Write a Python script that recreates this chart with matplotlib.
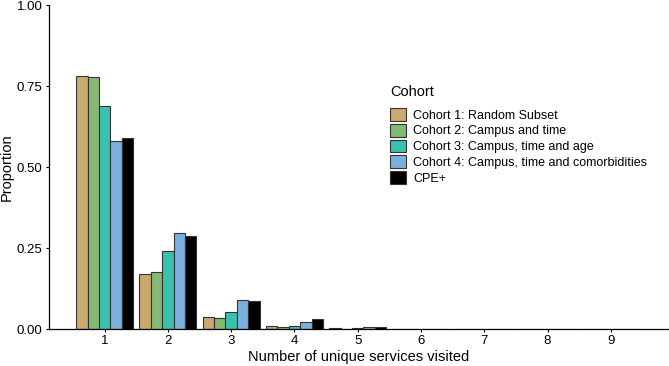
import numpy as np
import matplotlib.pyplot as plt

plt.rcParams['font.family'] = ['Liberation Sans', 'DejaVu Sans']

n_services = [1, 2, 3, 4, 5, 6, 7, 8, 9]
cohorts = ['Cohort 1: Random Subset', 'Cohort 2: Campus and time',
           'Cohort 3: Campus, time and age',
           'Cohort 4: Campus, time and comorbidities', 'CPE+']
cohort1 = [0.781, 0.170, 0.037, 0.008, 0.002, 0.000, 0.000, 0.000, 0.000]
cohort2 = [0.778, 0.177, 0.035, 0.005, 0.001, 0.000, 0.000, 0.000, 0.000]
cohort3 = [0.690, 0.240, 0.054, 0.010, 0.003, 0.001, 0.001, 0.000, 0.000]
cohort4 = [0.580, 0.297, 0.091, 0.022, 0.005, 0.001, 0.001, 0.000, 0.000]
cpe     = [0.590, 0.287, 0.087, 0.031, 0.005, 0.000, 0.000, 0.000, 0.000]
series = [cohort1, cohort2, cohort3, cohort4, cpe]
colors = ['#C9A96E', '#86B973', '#3BBFAE', '#7BB0DE', '#000000']

fig = plt.figure(figsize=(6.69, 3.66), dpi=100)
ax = fig.add_axes([0.0732, 0.101, 0.9268, 0.885])

w = 0.18
x = np.array(n_services, dtype=float)
for i, (vals, c, lab) in enumerate(zip(series, colors, cohorts)):
    ax.bar(x + (i - 2) * w, vals, width=w, color=c, edgecolor='#333333',
           linewidth=0.8, label=lab)

ax.set_xlim(0.12, 9.92)
ax.set_ylim(0, 1.0)
ax.set_xticks(n_services)
ax.set_yticks([0, 0.25, 0.5, 0.75, 1.0])
ax.set_yticklabels(['0.00', '0.25', '0.50', '0.75', '1.00'])
ax.tick_params(labelsize=9.5, length=2.5, width=0.8, pad=2, colors='black')
for s in ['top', 'right']:
    ax.spines[s].set_visible(False)
for s in ['left', 'bottom']:
    ax.spines[s].set_linewidth(0.9)
ax.set_xlabel('Number of unique services visited', fontsize=10.5, labelpad=2)
ax.set_ylabel('Proportion', fontsize=10.5, labelpad=2)

leg = ax.legend(title='Cohort', loc='upper left',
                bbox_to_anchor=(390 / 669, 1 - 85 / 366),
                bbox_transform=fig.transFigure,
                frameon=False, fontsize=9, title_fontsize=10.5,
                handlelength=1.3, handleheight=1.2, handletextpad=0.55,
                labelspacing=0.17, borderaxespad=0, borderpad=0)
leg._legend_box.align = 'left'
leg._legend_box.sep = 6.5

fig.savefig('out.png', dpi=100)
